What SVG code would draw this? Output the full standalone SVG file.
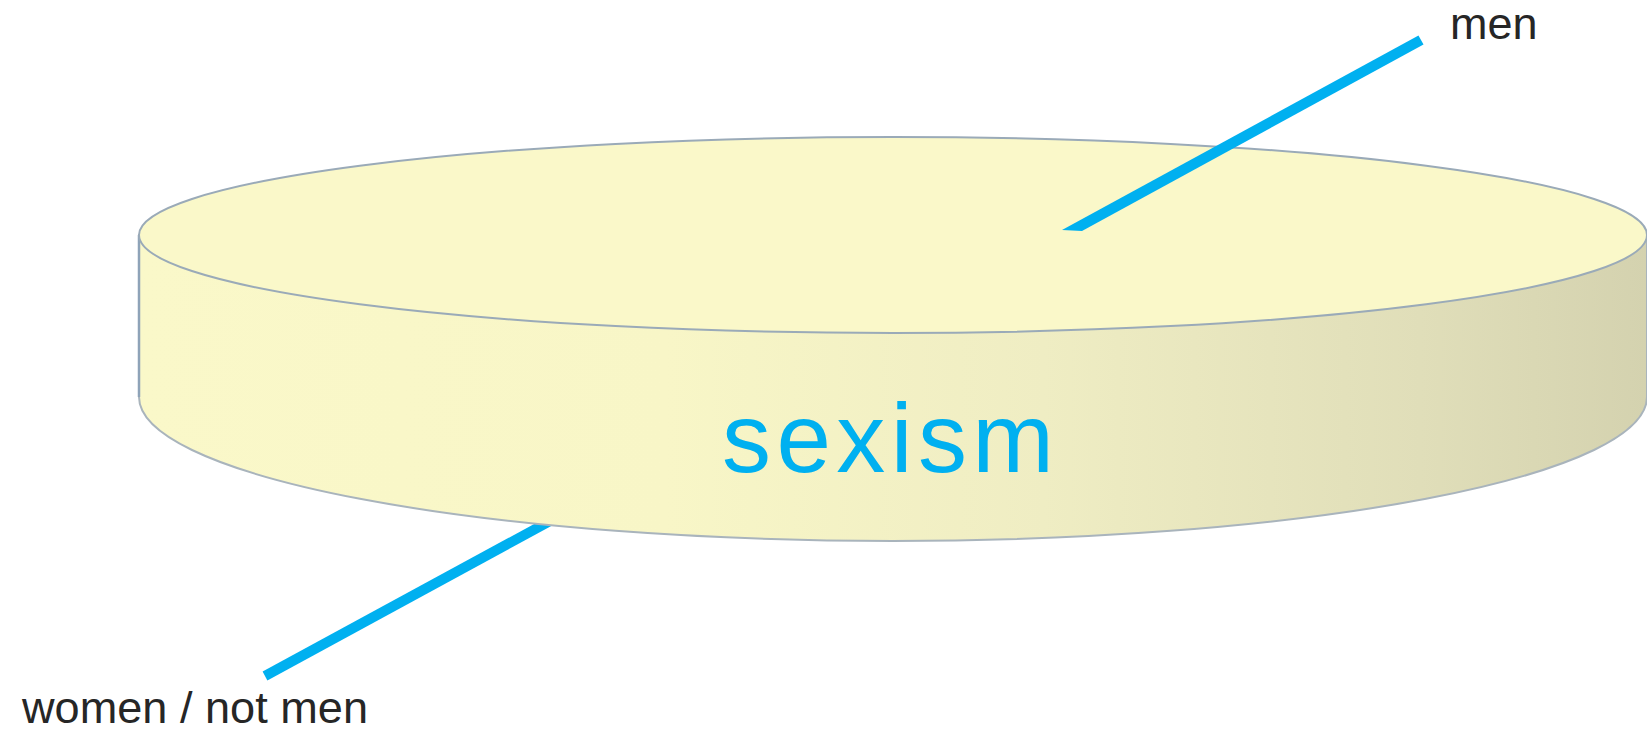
<svg xmlns="http://www.w3.org/2000/svg" width="1647" height="739" viewBox="0 0 1647 739">
  <style>
    .label { font-family: "Liberation Sans", Arial, sans-serif; font-size: 45px; fill: #262626; }
    .title { font-family: "Liberation Sans", Arial, sans-serif; font-size: 98px; fill: #00B0F0; }
    .conn { stroke: #00B0F0; stroke-width: 10; fill: none; stroke-linecap: butt; }
    .edge { stroke: #9AAAB8; stroke-width: 2; }
  </style>
  <defs>
    <linearGradient id="side" x1="139" y1="0" x2="1647" y2="0" gradientUnits="userSpaceOnUse">
      <stop offset="0" stop-color="#FAF8C9"/>
      <stop offset="0.35" stop-color="#F8F6C7"/>
      <stop offset="0.6" stop-color="#EFEDC3"/>
      <stop offset="0.85" stop-color="#E0DEB9"/>
      <stop offset="1" stop-color="#D4D2AF"/>
    </linearGradient>
  </defs>

  <g id="connectors">
    <line id="women-line" class="conn" x1="265" y1="676" x2="620" y2="483"/>
  </g>

  <g id="disk">
    <path d="M139 235 L139 397 A754 144 0 0 0 1647 397 L1647 235 Z" fill="url(#side)" stroke="#A9B4BC" stroke-width="2"/>
    <path d="M139 235 L139 397" stroke="#8EA3B8" stroke-width="2.5"/>
    <ellipse cx="893" cy="235" rx="754" ry="98" fill="#FAF8C9" class="edge"/>
  </g>

  <g id="men-connector">
    <polygon points="1418.5,35.5 1423.5,44.5 1082,231 1062,230" fill="#00B0F0"/>
  </g>

  <g id="node-sexism">
    <text class="title" x="722" y="472" textLength="332" lengthAdjust="spacing">sexism</text>
  </g>
  <g id="node-men">
    <text class="label" x="1450" y="39">men</text>
  </g>
  <g id="node-women">
    <text class="label" x="22" y="723" textLength="346" lengthAdjust="spacingAndGlyphs">women / not men</text>
  </g>
</svg>
